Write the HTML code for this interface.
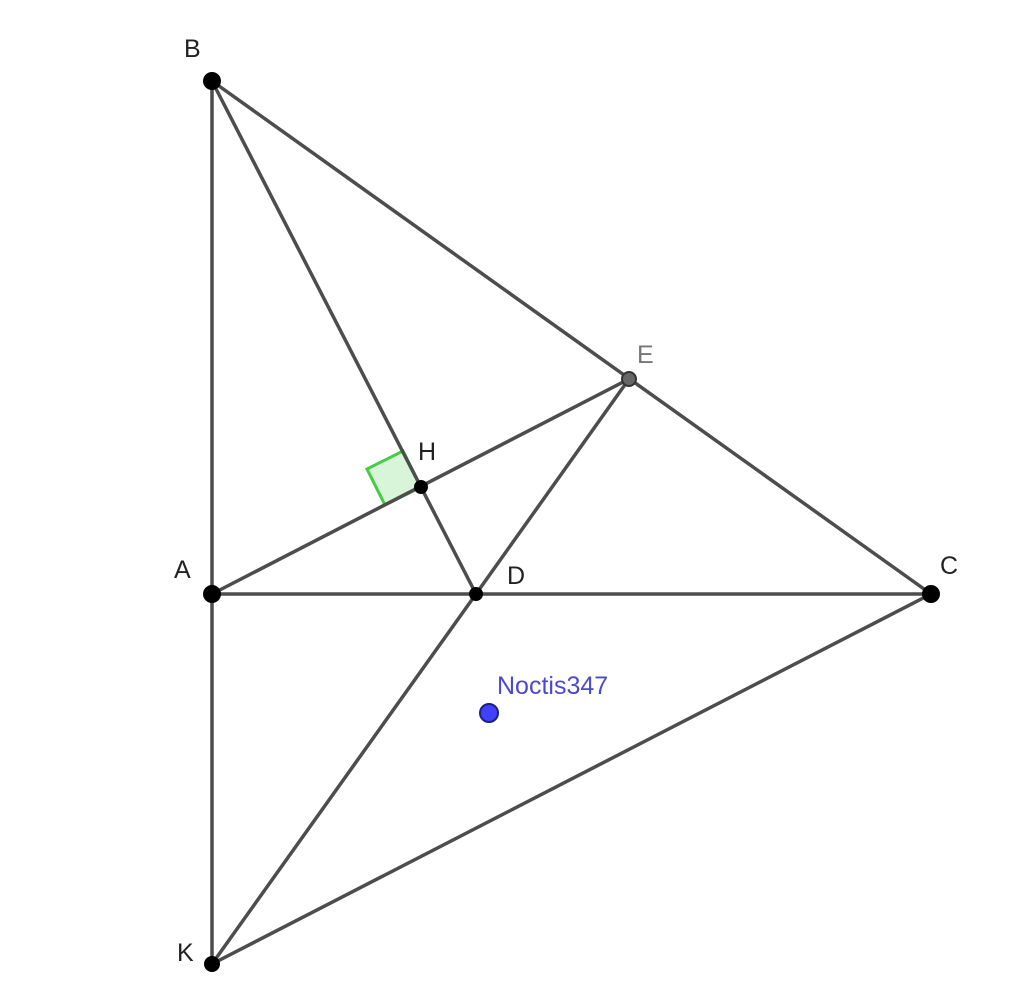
<!DOCTYPE html>
<html><head><meta charset="utf-8"><style>
html,body{margin:0;padding:0;background:#fff;}
svg{display:block;}
text{font-family:"Liberation Sans",Arial,sans-serif;font-size:25px;}
</style></head><body>
<svg width="1024" height="994" viewBox="0 0 1024 994" xmlns="http://www.w3.org/2000/svg">
<polygon points="421,487 385,505 367,469 403,451" fill="#d9f5d9" stroke="#44cc44" stroke-width="3"/>
<g stroke="#4d4d4d" stroke-width="3.5" stroke-linecap="round" fill="none">
<line x1="212" y1="81" x2="212" y2="964"/>
<line x1="212" y1="81" x2="931" y2="594"/>
<line x1="212" y1="594" x2="931" y2="594"/>
<line x1="212" y1="81" x2="476" y2="594"/>
<line x1="212" y1="594" x2="629" y2="379"/>
<line x1="629" y1="379" x2="476" y2="594"/>
<line x1="476" y1="594" x2="212" y2="964"/>
<line x1="212" y1="964" x2="931" y2="594"/>
</g>
<g fill="#000">
<circle cx="212" cy="81" r="9"/>
<circle cx="212" cy="594" r="9"/>
<circle cx="212" cy="964" r="8"/>
<circle cx="931" cy="594" r="9"/>
<circle cx="476" cy="594" r="7"/>
<circle cx="421" cy="487" r="7"/>
</g>
<circle cx="629" cy="379" r="7" fill="#666" stroke="#333" stroke-width="2"/>
<circle cx="489" cy="713" r="9" fill="#4040ff" stroke="#202080" stroke-width="2"/>
<text x="184" y="57" fill="#222">B</text>
<text x="637" y="363" fill="#777">E</text>
<text x="418" y="460" fill="#222">H</text>
<text x="174" y="578" fill="#222">A</text>
<text x="507" y="584" fill="#222">D</text>
<text x="940" y="574" fill="#222">C</text>
<text x="177" y="961" fill="#222">K</text>
<text x="497" y="694" fill="#4a4ad0">Noctis347</text>
</svg>
</body></html>
